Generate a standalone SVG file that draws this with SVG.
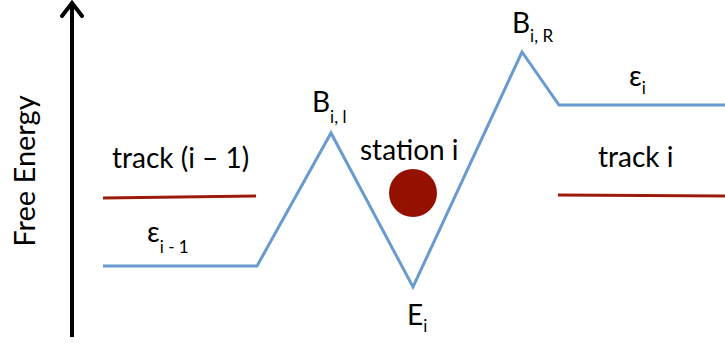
<svg xmlns="http://www.w3.org/2000/svg" width="725" height="348" viewBox="0 0 725 348">
<style>
text{font-family:Lato,"Open Sans","Liberation Sans",sans-serif;fill:#000}
.lbl{font-size:28px}
.sub{font-size:17px}
.blue{fill:none;stroke:#6a9bd0;stroke-width:3;stroke-linejoin:miter}
.red{fill:none;stroke:#9a1b0a;stroke-width:3}
</style>
<rect width="725" height="348" fill="#fff"/>
<g id="axis">
<line x1="72" y1="337" x2="72" y2="3" stroke="#000" stroke-width="4"/>
<polyline points="62,16 72,3 82,16" fill="none" stroke="#000" stroke-width="4" stroke-linecap="round" stroke-linejoin="miter"/>
<text font-size="29" transform="translate(35,171) rotate(-90)" text-anchor="middle">Free Energy</text>
</g>
<g id="energy-profile">
<polyline class="blue" points="103,266 257,266 331,133 413,287 522,52 559,105 725,105"/>
</g>
<g id="track-prev">
<line class="red" x1="103" y1="198" x2="256" y2="196"/>
<text class="lbl" x="112" y="168">track (i – 1)</text>
</g>
<g id="track-i">
<line class="red" x1="558" y1="195" x2="725" y2="196"/>
<text class="lbl" x="598" y="167">track i</text>
</g>
<g id="station-i">
<circle cx="413" cy="193" r="24" fill="#941100"/>
<text class="lbl" x="360" y="160">station i</text>
</g>
<g id="labels">
<text class="lbl" x="312" y="112">B<tspan class="sub" dy="11">i, l</tspan></text>
<text class="lbl" x="512" y="33">B<tspan class="sub" dy="9">i, R</tspan></text>
<text class="lbl" x="629" y="86">ε<tspan class="sub" dy="8">i</tspan></text>
<text class="lbl" x="407" y="325">E<tspan class="sub" dy="7">i</tspan></text>
<text class="lbl" x="147" y="242">ε<tspan class="sub" dy="11">i - 1</tspan></text>
</g>
</svg>
